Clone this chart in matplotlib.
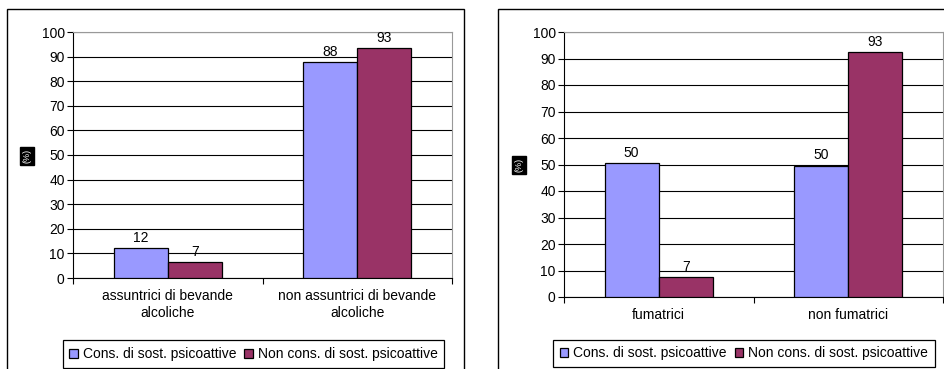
import matplotlib.pyplot as plt
import numpy as np
from matplotlib.patches import Rectangle

plt.rcParams['font.family'] = ['Liberation Sans', 'DejaVu Sans']

series = ['Cons. di sost. psicoattive', 'Non cons. di sost. psicoattive']
colori = ['#9999FF', '#993366']

cat_alcol = ['assuntrici di bevande\nalcoliche', 'non assuntrici di bevande\nalcoliche']
cons_alcol = [12.2, 87.8]
noncons_alcol = [6.5, 93.3]
etich_alcol = [['12', '88'], ['7', '93']]

cat_fumo = ['fumatrici', 'non fumatrici']
cons_fumo = [50.4, 49.6]
noncons_fumo = [7.4, 92.4]
etich_fumo = [['50', '50'], ['7', '93']]

W, H = 944, 369
FS = 10
fig = plt.figure(figsize=(W / 100, H / 100), dpi=100)
fig.patch.set_facecolor('white')


def px_axes(left, top, right, bottom):
    return fig.add_axes([left / W, 1 - bottom / H, (right - left) / W, (bottom - top) / H])


def pannello(ax, categorie, v1, v2, etichette, label_xy, leg_xy):
    x = np.arange(len(categorie))
    bw = 1 / 3.5
    b1 = ax.bar(x - bw / 2, v1, bw, color=colori[0], edgecolor='black', linewidth=0.9,
                label=series[0], zorder=3)
    b2 = ax.bar(x + bw / 2, v2, bw, color=colori[1], edgecolor='black', linewidth=0.9,
                label=series[1], zorder=3)
    for bars, lab in zip([b1, b2], etichette):
        for b, t in zip(bars, lab):
            ax.annotate(t, (b.get_x() + b.get_width() / 2, b.get_height()),
                        xytext=(0, 2.5), textcoords='offset points',
                        ha='center', va='bottom', fontsize=FS)
    ax.set_xlim(-0.5, len(categorie) - 0.5)
    ax.set_ylim(0, 100)
    ax.set_yticks(np.arange(0, 101, 10))
    ax.set_xticks([-0.5, 0.5, 1.5], minor=False)
    ax.set_xticklabels([])
    ax.set_xticks(x, minor=True)
    ax.set_xticklabels(categorie, minor=True, fontsize=FS, linespacing=1.25)
    ax.tick_params(axis='x', which='minor', length=0, pad=8)
    ax.tick_params(axis='x', which='major', length=4, direction='out', width=0.8)
    ax.tick_params(axis='y', length=4, width=0.8, labelsize=FS, pad=2)
    ax.yaxis.grid(True, color='black', linewidth=0.8, zorder=0)
    ax.set_axisbelow(True)
    for s in ['top', 'right']:
        ax.spines[s].set_color('#999999')
    for s in ['left', 'bottom']:
        ax.spines[s].set_color('black')
    fig.text(label_xy[0] / W, 1 - label_xy[1] / H, '(%)', rotation=90, ha='center', va='center',
             fontsize=6.5, color='white',
             bbox=dict(boxstyle='square,pad=0.25', facecolor='black', edgecolor='black'))
    leg = fig.legend(handles=[b1, b2], labels=series, loc='center',
                     bbox_to_anchor=(leg_xy[0] / W, 1 - leg_xy[1] / H), ncol=2,
                     fontsize=FS, handlelength=0.6, handleheight=0.6, handletextpad=0.35,
                     columnspacing=0.6, borderpad=0.5, fancybox=False, framealpha=1)
    leg.get_frame().set_edgecolor('black')
    leg.get_frame().set_linewidth(0.9)


# cornici esterne
fig.add_artist(Rectangle((7 / W, -0.1), 457 / W, 1.1 - 9 / H, transform=fig.transFigure,
                         fill=False, edgecolor='black', linewidth=1.0))
fig.add_artist(Rectangle((498 / W, -0.1), 460 / W, 1.1 - 9 / H, transform=fig.transFigure,
                         fill=False, edgecolor='black', linewidth=1.0))

ax1 = px_axes(73, 32, 452, 278)
pannello(ax1, cat_alcol, cons_alcol, noncons_alcol, etich_alcol, (27, 156), (253.5, 354))

ax2 = px_axes(564, 32, 943, 297)
pannello(ax2, cat_fumo, cons_fumo, noncons_fumo, etich_fumo, (519, 165), (744, 353.5))

fig.savefig('out.png', dpi=100, facecolor='white')
